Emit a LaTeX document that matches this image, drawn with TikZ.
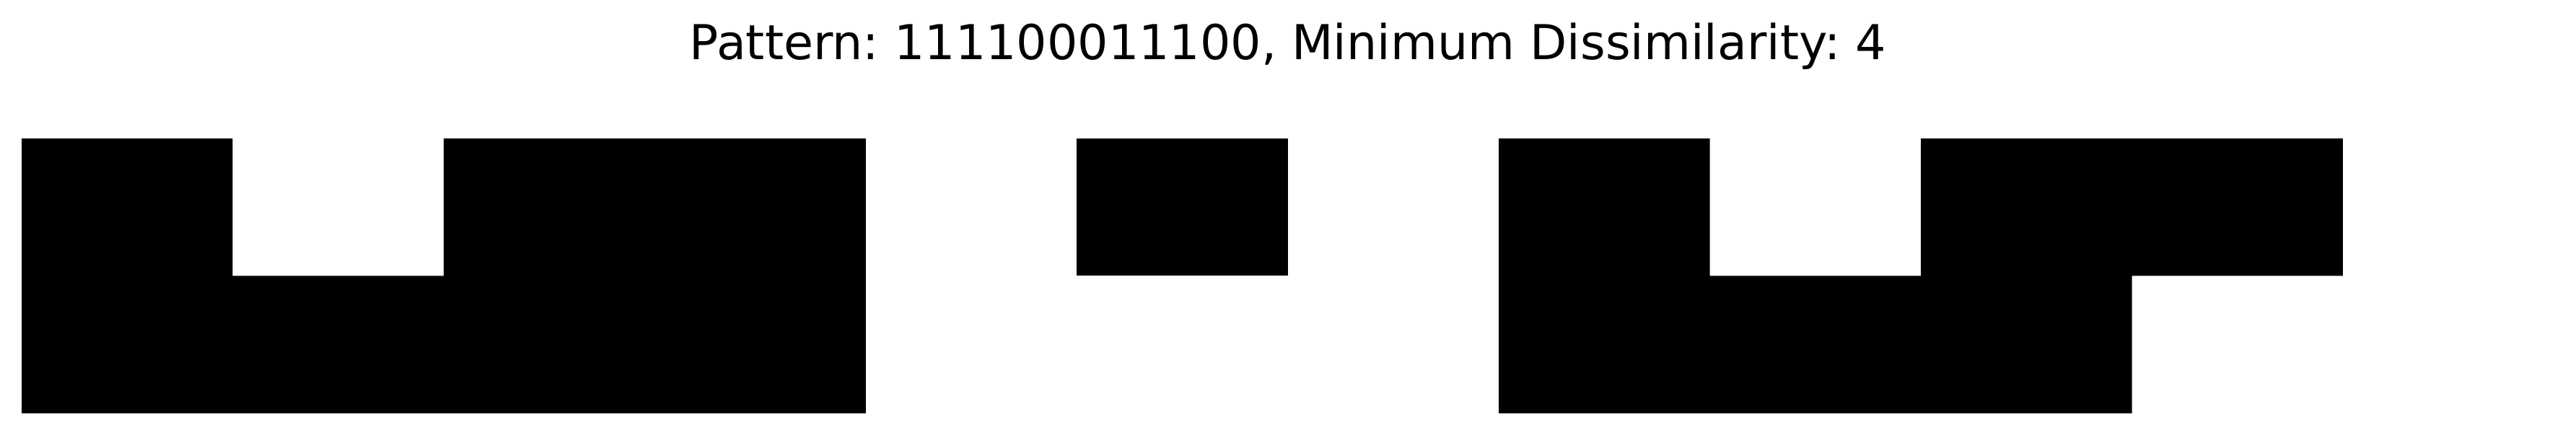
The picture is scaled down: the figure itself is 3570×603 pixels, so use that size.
\documentclass[tikz,border=0pt]{standalone}
\usepackage{fontspec}
\setmainfont{DejaVu Sans}
\frenchspacing
\begin{document}
\begin{tikzpicture}[x=0.24pt,y=-0.24pt,
  cellfill/.style={fill=black,draw=none},
  titletext/.style={anchor=base,inner sep=0pt,font=\fontsize{16pt}{19pt}\selectfont}]
\useasboundingbox[fill=white] (0,0) rectangle (3570,603);
\def\ya{192}\def\yb{382.5}\def\yc{573}
% left block (cols 0-3)
\fill[cellfill] (30,\ya) -- (322.45,\ya) -- (322.45,\yb) -- (614.9,\yb) -- (614.9,\ya)
  -- (1199.8,\ya) -- (1199.8,\yc) -- (30,\yc) -- cycle;
% single cell (col 5, top)
\fill[cellfill] (1492.25,\ya) rectangle (1784.7,\yb);
% right block (cols 7-10)
\fill[cellfill] (2077.15,\ya) -- (2369.6,\ya) -- (2369.6,\yb) -- (2662.05,\yb) -- (2662.05,\ya)
  -- (3246.95,\ya) -- (3246.95,\yb) -- (2954.5,\yb) -- (2954.5,\yc) -- (2077.15,\yc) -- cycle;
\node[titletext] (title) at (1785,82.3) {Pattern: 111100011100, Minimum Dissimilarity: 4};
\end{tikzpicture}
\end{document}
